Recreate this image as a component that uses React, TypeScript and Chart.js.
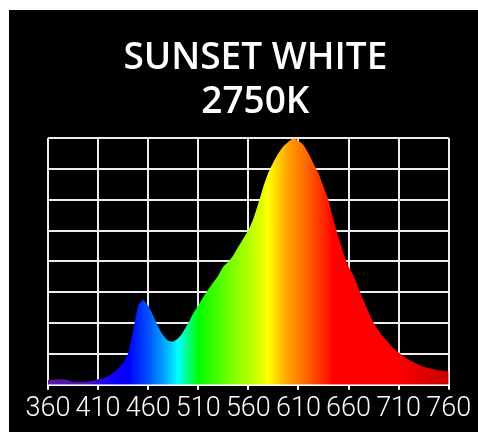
import React, { useEffect, useRef } from "react";
import { Chart, registerables } from "chart.js";

Chart.register(...registerables);

const titleLines = ["SUNSET WHITE", "2750K"];

const wavelengths = [
  360, 365, 370, 375, 380, 385, 390, 395, 400, 405, 410, 415, 420, 425, 430, 435,
  440, 445, 450, 455, 460, 465, 470, 475, 480, 485, 490, 495, 500, 505, 510, 515,
  520, 525, 530, 535, 540, 545, 550, 555, 560, 565, 570, 575, 580, 585, 590, 595,
  600, 605, 610, 615, 620, 625, 630, 635, 640, 645, 650, 655, 660, 665, 670, 675,
  680, 685, 690, 695, 700, 705, 710, 715, 720, 725, 730, 735, 740, 745, 750, 755, 760,
];

const intensity = [
  1.9, 2.0, 2.2, 2.2, 1.8, 1.2, 1.2, 1.2, 1.3, 1.6, 2.2, 2.6, 3.4, 4.7, 6.6, 8.8,
  12.8, 22, 32, 34.3, 32, 28, 23.5, 20, 17.8, 17.5, 18.8, 21.5, 25, 29, 32, 35.5,
  38.6, 41.5, 44.3, 47.8, 49.8, 52.5, 55.9, 59.3, 62.6, 67.3, 73.5, 80.3, 86, 90.2, 93.8, 96.7,
  98.5, 99.8, 98.8, 97.2, 93.8, 89.7, 85.7, 80.3, 74.9, 66.8, 60, 53.3, 47.8, 44.3, 39, 34.2,
  29.5, 25.1, 21.9, 19.3, 17, 14.8, 13, 11.4, 10.2, 9.1, 8.2, 7.3, 6.8, 6.3, 5.9, 5.6, 5.3,
];

const xMin = 360;
const xMax = 760;
const xStep = 50;
const yMin = 0;
const yMax = 100;
const yStep = 12.5;

// colour of each wavelength (nm -> css colour), used for the horizontal gradient
const spectrumStops: [number, string][] = [
  [360, "#5a1aa0"],
  [400, "#4a10c0"],
  [425, "#1000ff"],
  [440, "#0000ff"],
  [460, "#0050ff"],
  [475, "#00a0ff"],
  [490, "#00ffff"],
  [510, "#00ff00"],
  [540, "#70ff00"],
  [560, "#b0ff00"],
  [580, "#ffff00"],
  [600, "#ffa000"],
  [620, "#ff6000"],
  [645, "#ff0000"],
  [705, "#ff0000"],
  [760, "#c80000"],
];

const titleShift = {
  id: "titleShift",
  afterLayout(chart: any) {
    const tb = chart.titleBlock;
    if (tb) {
      tb.left += 7;
      tb.right += 7;
    }
  },
};

export default function App() {
  const canvasRef = useRef<HTMLCanvasElement | null>(null);

  useEffect(() => {
    const canvas = canvasRef.current;
    if (!canvas) return;
    const chart = new Chart(canvas, {
      type: "line",
      data: {
        datasets: [
          {
            data: wavelengths.map((w, i) => ({ x: w, y: intensity[i] })),
            fill: "origin",
            borderWidth: 0,
            borderColor: "rgba(0,0,0,0)",
            pointRadius: 0,
            tension: 0.2,
            backgroundColor: (ctx: any) => {
              const ch = ctx.chart;
              const ca = ch.chartArea;
              if (!ca) return "#ff0000";
              const xs = ch.scales.x;
              const g = ch.ctx.createLinearGradient(xs.getPixelForValue(xMin), 0, xs.getPixelForValue(xMax), 0);
              spectrumStops.forEach(([w, c]) => {
                g.addColorStop((w - xMin) / (xMax - xMin), c);
              });
              return g;
            },
          },
        ],
      },
      options: {
        animation: false,
        responsive: false,
        maintainAspectRatio: false,
        layout: { padding: { left: 39, right: 29.3, top: 0, bottom: 2.7 } },
        plugins: {
          legend: { display: false },
          tooltip: { enabled: false },
          title: {
            display: true,
            text: titleLines,
            color: "#ffffff",
            fullSize: false,
            align: "center",
            font: { family: "'Open Sans'", weight: 600, size: 37, lineHeight: 1.2 },
            padding: { top: 26, bottom: 13.2 },
          },
        },
        scales: {
          x: {
            type: "linear",
            min: xMin,
            max: xMax,
            ticks: {
              stepSize: xStep,
              color: "#ffffff",
              font: { family: "Roboto, 'Liberation Sans', sans-serif", weight: 300, size: 27, lineHeight: 1.06 },
              padding: 5.5,
              maxRotation: 0,
              autoSkip: false,
              callback: (v: any) => String(v),
            },
            grid: { color: "#eeeeee", lineWidth: 2, drawTicks: true, tickLength: 5, tickColor: "#ffffff", tickWidth: 2 },
            border: { color: "#ffffff", width: 2 },
          },
          y: {
            type: "linear",
            min: yMin,
            max: yMax,
            ticks: { stepSize: yStep, display: false },
            grid: { color: "#eeeeee", lineWidth: 2, drawTicks: false },
            border: { display: false },
          },
        },
      },
      plugins: [titleShift],
    });
    return () => chart.destroy();
  }, []);

  return (
    <div style={{ position: "absolute", left: 9, top: 10, width: 469, height: 422, background: "#000000" }}>
      <canvas ref={canvasRef} width={469} height={422} style={{ display: "block", width: 469, height: 422 }} />
    </div>
  );
}
